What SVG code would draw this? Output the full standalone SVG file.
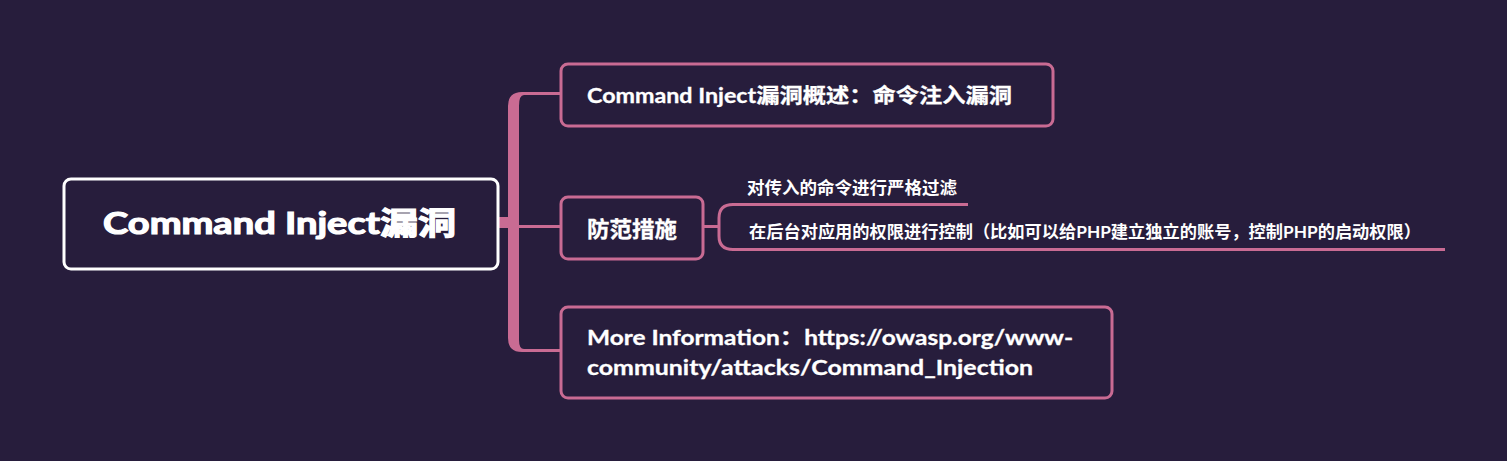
<svg xmlns="http://www.w3.org/2000/svg" width="1507" height="461" viewBox="0 0 1507 461">
<style>
.bg{fill:#271d3c}
.box{fill:#271d3c;stroke:#c96b93;stroke-width:3}
.root{fill:#271d3c;stroke:#ffffff;stroke-width:3}
.t{fill:#ffffff;font-family:Lato,"Noto Sans CJK SC",sans-serif;font-weight:bold}
.ln{fill:none;stroke:#c96b93;stroke-width:3}
.fill{fill:#c96b93}
</style>
<rect class="bg" x="0" y="0" width="1507" height="461"/>
<g id="connectors">
<rect class="fill" x="497" y="217" width="12" height="11"/>
<path class="fill" d="M508 106 Q508 92 522 92 L561 92 L561 95 L524 95 Q519 95 519 106 L519 340 Q519 349 524 349 L561 349 L561 352 L522 352 Q508 352 508 338 Z"/>
<line class="ln" x1="519" y1="226.5" x2="561" y2="226.5"/>
<line class="ln" x1="703" y1="226.5" x2="719" y2="226.5"/>
<path class="ln" d="M968 204.5 L733 204.5 Q719 204.5 719 218 L719 236 Q719 249.5 733 249.5 L1445 249.5" stroke-width="3.5"/>
</g>
<g id="root">
<rect class="root" x="64" y="179" width="434" height="90" rx="7"/>
<text class="t" x="103" y="234" font-size="31" font-weight="900" stroke="#ffffff" stroke-width="1.2" textLength="353" lengthAdjust="spacingAndGlyphs">Command Inject漏洞</text>
</g>
<g id="n1">
<rect class="box" x="561" y="64" width="492" height="62" rx="7"/>
<text class="t" x="587" y="103" font-size="20.5" stroke="#ffffff" stroke-width="0.3" textLength="425" lengthAdjust="spacingAndGlyphs">Command Inject漏洞概述：命令注入漏洞</text>
</g>
<g id="n2">
<rect class="box" x="561" y="197" width="142" height="62" rx="7"/>
<text class="t" x="587" y="237" font-size="22" stroke="#ffffff" stroke-width="0.3" textLength="90" lengthAdjust="spacingAndGlyphs">防范措施</text>
</g>
<g id="n2a">
<text class="t" x="747" y="194" font-size="17" textLength="210" lengthAdjust="spacingAndGlyphs">对传入的命令进行严格过滤</text>
</g>
<g id="n2b">
<text class="t" x="749" y="238" font-size="17" textLength="672" lengthAdjust="spacingAndGlyphs">在后台对应用的权限进行控制（比如可以给PHP建立独立的账号，控制PHP的启动权限）</text>
</g>
<g id="n3">
<rect class="box" x="561" y="307" width="551" height="91" rx="7"/>
<text class="t" x="587" y="345" font-size="20.5" stroke="#ffffff" stroke-width="0.3" textLength="486" lengthAdjust="spacingAndGlyphs">More Information：https://owasp.org/www-</text>
<text class="t" x="587" y="375" font-size="20.5" stroke="#ffffff" stroke-width="0.3" textLength="446" lengthAdjust="spacingAndGlyphs">community/attacks/Command_Injection</text>
</g>
</svg>
